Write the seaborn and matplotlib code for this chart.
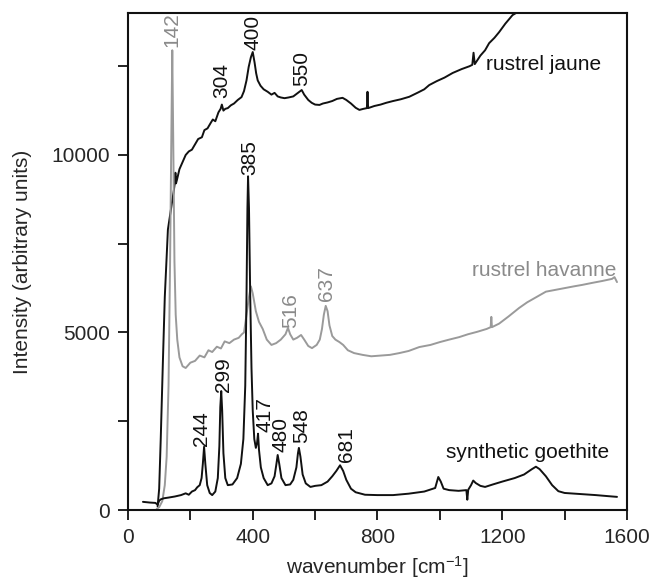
import numpy as np
import pandas as pd
import matplotlib
matplotlib.use("Agg")
import matplotlib.pyplot as plt
import seaborn as sns

# ---------------- data ----------------
goethite_x = [48, 70, 88, 95, 100, 105, 115, 130, 150, 170, 185, 195, 205, 215, 222, 230,
              236, 240, 244, 248, 254, 262, 270, 280, 288, 293, 296, 299, 302, 306, 312, 320,
              335, 350, 362, 370, 376, 380, 383, 385, 388, 392, 396, 400, 405, 410, 414, 417,
              420, 426, 435, 448, 460, 470, 476, 480, 485, 492, 505, 520, 530, 540, 545, 548,
              553, 560, 570, 585, 600, 620, 640, 655, 668, 680, 690, 700, 715, 730, 760, 800,
              850, 900, 950, 985, 995, 1003, 1012, 1030, 1060, 1085, 1088, 1091, 1100, 1107,
              1115, 1130, 1145, 1170, 1200, 1240, 1270, 1295, 1308, 1320, 1340, 1360, 1380,
              1400, 1450, 1500, 1540, 1568]
goethite_y = [230, 210, 200, 150, 260, 300, 330, 350, 380, 420, 470, 430, 520, 560, 640, 700,
              900, 1300, 1780, 1300, 700, 480, 420, 520, 900, 1800, 2900, 3350, 2800, 1600, 900, 700,
              720, 900, 1300, 2000, 3500, 6000, 8500, 9400, 8500, 6000, 4000, 2800, 2000, 1750, 1900, 2150,
              1700, 1200, 900, 700, 750, 950, 1300, 1550, 1300, 900, 700, 720, 850, 1200, 1600, 1750,
              1500, 1000, 750, 650, 680, 700, 800, 950, 1100, 1260, 1100, 850, 600, 500, 430, 420,
              420, 460, 520, 620, 930, 800, 600, 560, 540, 560, 290, 570, 700, 830,
              760, 680, 650, 720, 800, 900, 1000, 1150, 1220, 1150, 950, 700, 530,
              480, 450, 420, 390, 370]

havanne_x = [92, 100, 110, 118, 124, 130, 135, 139, 142, 145, 149, 153, 158, 165, 175, 185,
             200, 215, 230, 245, 258, 270, 285, 298, 310, 325, 340, 355, 365, 372, 380, 388,
             394, 400, 410, 420, 432, 445, 460, 475, 490, 505, 513, 520, 530, 542, 555, 565,
             578, 590, 605, 615, 622, 628, 634, 640, 646, 655, 665, 678, 690, 705, 725, 752,
             780, 810, 840, 870, 900, 934, 970, 1000, 1030, 1062, 1090, 1120, 1150, 1163, 1165,
             1167, 1190, 1220, 1254, 1280, 1310, 1340, 1370, 1400, 1430, 1456, 1490, 1520, 1552,
             1560, 1568]
havanne_y = [30, 80, 250, 700, 1500, 3500, 7000, 10500, 12950, 10500, 7000, 5500, 4800, 4300, 4050, 4000,
             4150, 4200, 4350, 4300, 4500, 4450, 4600, 4550, 4750, 4700, 4800, 4850, 4950, 5000, 5500, 6000,
             6300, 6100, 5600, 5300, 5100, 4800, 4650, 4700, 4800, 4950, 5130, 4950, 4800, 4850, 4930, 4800,
             4620, 4560, 4650, 4800, 5100, 5500, 5750, 5600, 5200, 4900, 4800, 4730, 4650, 4500, 4420, 4370,
             4330, 4350, 4370, 4420, 4480, 4590, 4650, 4730, 4800, 4870, 4950, 5020, 5100, 5150, 5440,
             5150, 5250, 5450, 5690, 5850, 6000, 6150, 6200, 6250, 6300, 6340, 6400, 6450, 6510,
             6560, 6420]

jaune_x = [95, 100, 105, 112, 118, 128, 140, 147, 150, 152, 154, 157, 165, 175, 185, 195,
           205, 215, 225, 237, 245, 255, 265, 272, 280, 290, 297, 301, 306, 312, 320, 330,
           340, 352, 364, 372, 380, 387, 394, 400, 406, 411, 416, 425, 435, 448, 460, 470,
           480, 490, 502, 515, 530, 545, 557, 565, 578, 589, 600, 614, 625, 640, 655, 670,
           688, 700, 715, 730, 742, 755, 766, 768, 770, 790, 810, 828, 850, 875, 902, 930,
           950, 966, 990, 1015, 1041, 1070, 1095, 1104, 1108, 1112, 1130, 1145, 1158, 1175,
           1190, 1210, 1233, 1254, 1275]
jaune_y = [100, 600, 2000, 4200, 6000, 7900, 8600, 9000, 9200, 9500, 9200, 9300, 9600, 9800, 10000, 10100,
           10150, 10300, 10450, 10500, 10700, 10750, 10900, 11000, 10950, 11200, 11300, 11420, 11250, 11300, 11320, 11400,
           11450, 11550, 11630, 11800, 12100, 12480, 12750, 12900, 12600, 12300, 12100, 11950, 11850, 11780, 11700, 11750,
           11650, 11620, 11600, 11620, 11650, 11750, 11830, 11700, 11550, 11470, 11420, 11410, 11450, 11480, 11520, 11580,
           11610, 11550, 11450, 11330, 11270, 11300, 11320, 11780, 11320, 11380, 11420, 11470, 11520, 11570, 11640, 11760,
           11850, 11970, 12080, 12180, 12310, 12420, 12500, 12540, 12880, 12560, 12800, 12950, 13150, 13300,
           13460, 13700, 13940, 14050, 14300]

series_names = ["rustrel jaune", "rustrel havanne", "synthetic goethite"]

# peak labels: (text, x, y, series)
peak_text = ["142", "304", "400", "550", "385", "516", "637", "244", "299", "417", "480", "548", "681"]
peak_x = [142, 301, 400, 557, 390, 521, 636, 237, 307, 438, 490, 557, 700]
peak_y = [13050, 11600, 12950, 11950, 9440, 5130, 5900, 1800, 3320, 2200, 1630, 1890, 1350]
peak_series = ["rustrel havanne", "rustrel jaune", "rustrel jaune", "rustrel jaune", "synthetic goethite",
               "rustrel havanne", "rustrel havanne", "synthetic goethite", "synthetic goethite",
               "synthetic goethite", "synthetic goethite", "synthetic goethite", "synthetic goethite"]

x_ticks = [0, 200, 400, 600, 800, 1000, 1200, 1400, 1600]
x_ticklabels = ["0", "", "400", "", "800", "", "1200", "", "1600"]
y_ticks = [0, 2500, 5000, 7500, 10000, 12500]
y_ticklabels = ["0", "", "5000", "", "10000", ""]

# ---------------- plotting ----------------
sns.set_style("ticks")
plt.rcParams['font.family'] = ['Liberation Sans', 'DejaVu Sans']
plt.rcParams['mathtext.fontset'] = 'custom'
plt.rcParams['mathtext.rm'] = 'Liberation Sans'
plt.rcParams['mathtext.it'] = 'Liberation Sans'

df = pd.concat([
    pd.DataFrame({"x": jaune_x, "y": jaune_y, "s": series_names[0]}),
    pd.DataFrame({"x": havanne_x, "y": havanne_y, "s": series_names[1]}),
    pd.DataFrame({"x": goethite_x, "y": goethite_y, "s": series_names[2]}),
], ignore_index=True)

colors = {"rustrel jaune": "#111111", "rustrel havanne": "#9a9a9a", "synthetic goethite": "#111111"}
text_colors = {"rustrel jaune": "#111111", "rustrel havanne": "#8a8a8a", "synthetic goethite": "#111111"}

fig = plt.figure(figsize=(6.51, 5.82), dpi=100)
ax = fig.add_axes([0.1966, 0.1237, 0.7665, 0.854])

sns.lineplot(data=df, x="x", y="y", hue="s", palette=colors, estimator=None, sort=False,
             units="s", linewidth=1.4, legend=False, ax=ax)

ax.set_xlim(0, 1600)
ax.set_ylim(0, 14000)
ax.set_xticks(x_ticks)
ax.set_xticklabels(x_ticklabels)
ax.set_yticks(y_ticks)
ax.set_yticklabels(y_ticklabels)

fs = 15
ax.tick_params(direction="out", length=7, width=1.3, labelsize=fs, pad=6, color="#111111")
for sp in ax.spines.values():
    sp.set_linewidth(1.5)
    sp.set_color("#111111")

ax.set_xlabel("wavenumber [cm$^{\\mathregular{-1}}$]", fontsize=fs, labelpad=5)
ax.set_ylabel("Intensity (arbitrary units)", fontsize=fs, labelpad=14)

for t, x, y, s in zip(peak_text, peak_x, peak_y, peak_series):
    ax.text(x, y, t, rotation=90, ha="center", va="bottom", fontsize=fs,
            color=text_colors[s])

ax.text(1149, 12535, "rustrel jaune", ha="left", va="center", fontsize=fs, color="#111111")
ax.text(1104, 6760, "rustrel havanne", ha="left", va="center", fontsize=fs, color="#8a8a8a")
ax.text(1021, 1610, "synthetic goethite", ha="left", va="center", fontsize=fs, color="#111111")

fig.savefig("out.png", dpi=100)
